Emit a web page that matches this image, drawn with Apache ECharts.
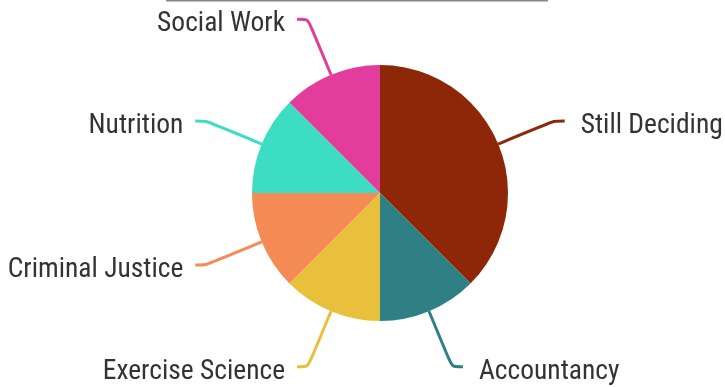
<!DOCTYPE html>
<html>
<head>
<meta charset="utf-8">
<script src="https://cdn.jsdelivr.net/npm/echarts@6/dist/echarts.min.js"></script>
<style>
html,body{margin:0;padding:0;background:#fff;}
#chart{width:725px;height:387px;}
</style>
</head>
<body>
<div id="chart"></div>
<script>
const categories = ["Still Deciding", "Accountancy", "Exercise Science", "Criminal Justice", "Nutrition", "Social Work"];
const values = [3, 1, 1, 1, 1, 1];
const colors = ["#8E2707", "#2E8084", "#E8C03B", "#F48B55", "#3DDDC4", "#E23D9C"];

const chart = echarts.init(document.getElementById('chart'), null, {renderer: 'canvas'});
const txt = {
  fontFamily: 'Roboto Condensed, Roboto, sans-serif',
  fontSize: 27.5,
  color: '#333333',
  padding: [10, 0, 0, 0]
};
chart.setOption({
  animation: false,
  backgroundColor: '#ffffff',
  graphic: [{
    type: 'line',
    shape: {x1: 166, y1: 0.5, x2: 548, y2: 0.5},
    style: {stroke: '#888888', lineWidth: 2}
  }],
  series: [{
    type: 'pie',
    center: [380, 193],
    radius: 128,
    startAngle: 90,
    clockwise: true,
    avoidLabelOverlap: false,
    data: categories.map((c, i) => ({
      name: c, value: values[i], itemStyle: {color: colors[i]},
      label: {distanceToLabelLine: i < 2 ? 16 : 12}
    })),
    label: {
      show: true,
      formatter: '{t|{b}}',
      rich: {t: txt},
      fontFamily: 'Roboto Condensed, Roboto, sans-serif',
      fontSize: 27.5,
      color: '#333333'
    },
    labelLine: {
      show: true,
      length: 60,
      length2: 11,
      smooth: 0.25,
      lineStyle: {width: 3}
    }
  }]
});
</script>
</body>
</html>
